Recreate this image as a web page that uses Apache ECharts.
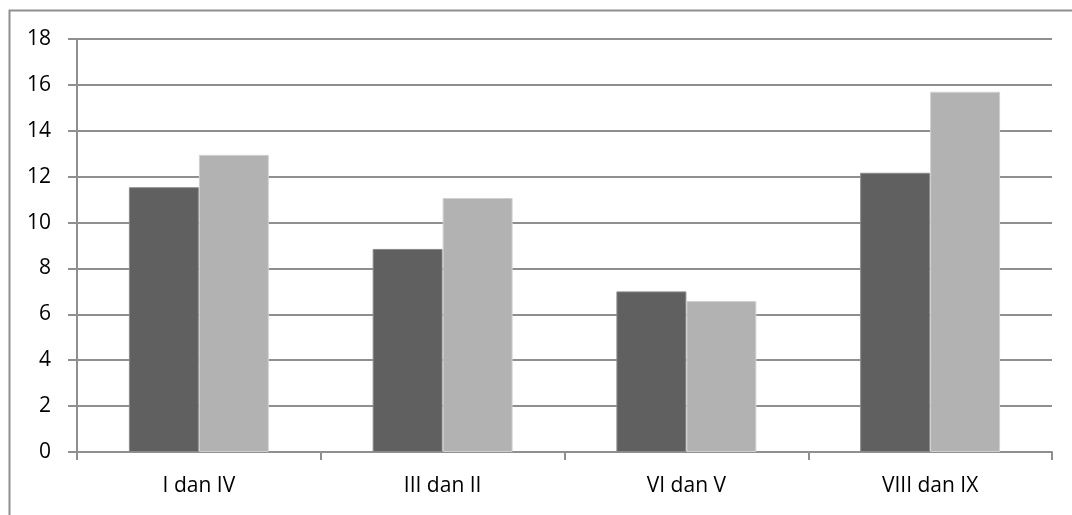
<!DOCTYPE html>
<html>
<head>
<meta charset="utf-8">
<script src="https://cdn.jsdelivr.net/npm/echarts@6/dist/echarts.min.js"></script>
<style>html,body{margin:0;padding:0;background:#fff}#c{width:1072px;height:515px}</style>
</head>
<body>
<div id="c"></div>
<script>
const categories = ['I dan IV', 'III dan II', 'VI dan V', 'VIII dan IX'];
const seriesDark = [11.54, 8.85, 7.0, 12.17];
const seriesLight = [12.95, 11.07, 6.58, 15.7];
const yTicks = [0, 2, 4, 6, 8, 10, 12, 14, 16, 18];

const chart = echarts.init(document.getElementById('c'), null, {renderer: 'canvas'});
const gridColor = '#8f8f8f';
const font = "'Open Sans', 'Liberation Sans', sans-serif";
chart.setOption({
  animation: false,
  backgroundColor: '#fff',
  textStyle: {fontFamily: font, fontSize: 21},
  graphic: [{
    type: 'rect', left: 7, top: 8,
    shape: {width: 1100, height: 600},
    style: {fill: 'none', stroke: '#8f8f8f', lineWidth: 2}
  }],
  grid: {left: 77, right: 20, top: 39, bottom: 63, containLabel: false},
  xAxis: {
    type: 'category',
    data: categories,
    axisLine: {show: true, lineStyle: {color: gridColor, width: 2}},
    axisTick: {show: true, length: 8, lineStyle: {color: gridColor, width: 2}},
    axisLabel: {show: true, color: '#000', fontSize: 21, fontFamily: font, margin: 24}
  },
  yAxis: {
    type: 'value',
    min: yTicks[0], max: yTicks[yTicks.length - 1], interval: 2,
    axisLine: {show: true, lineStyle: {color: gridColor, width: 2}},
    axisTick: {show: true, length: 9, lineStyle: {color: gridColor, width: 2}},
    axisLabel: {show: true, color: '#000', fontSize: 21, fontFamily: font, margin: 26},
    splitLine: {show: true, lineStyle: {color: gridColor, width: 2}}
  },
  series: [
    {type: 'bar', data: seriesDark, barGap: '0%', barCategoryGap: '42.6%',
     itemStyle: {color: '#606060', borderColor: '#8a8a8a', borderWidth: 1}},
    {type: 'bar', data: seriesLight, barGap: '0%', barCategoryGap: '42.6%',
     itemStyle: {color: '#b2b2b2', borderColor: '#d0d0d0', borderWidth: 1}}
  ]
});
</script>
</body>
</html>
